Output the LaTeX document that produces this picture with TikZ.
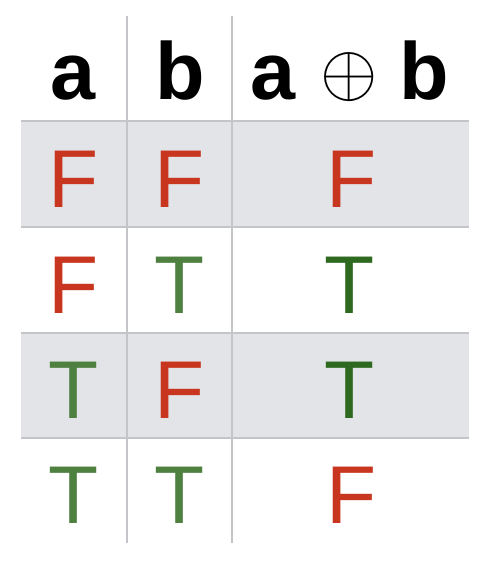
\documentclass[tikz,border=0pt]{standalone}
\usepackage{graphicx}
\usepackage{fontspec}
\setmainfont{Liberation Sans}
\definecolor{fred}{HTML}{C8361F}
\definecolor{tgreen}{HTML}{4E8040}
\definecolor{tdark}{HTML}{2D6A1F}
\definecolor{rowgray}{HTML}{E3E4E8}
\definecolor{rulegray}{HTML}{C4C5C9}
\begin{document}
\begin{tikzpicture}[x=1bp,y=-1bp,
  cell/.style={anchor=base,inner sep=0pt,font=\fontsize{82bp}{82bp}\selectfont},
  head/.style={anchor=base,inner sep=0pt,font=\fontsize{81bp}{81bp}\selectfont\bfseries},
  valF/.style={cell,text=fred},
  valT/.style={cell,text=tgreen},
  valTd/.style={cell,text=tdark},
  gridline/.style={draw=rulegray,line width=1.6bp}]
\useasboundingbox (0,0) rectangle (494,572);
\fill[white] (0,0) rectangle (494,572);
% shaded rows
\fill[rowgray] (21,121) rectangle (469,227);
\fill[rowgray] (21,333) rectangle (469,438);
% horizontal rules
\foreach \yy in {121,227,333,438} \draw[gridline] (21,\yy) -- (469,\yy);
% vertical rules
\draw[gridline] (127,16) -- (127,543);
\draw[gridline] (232,16) -- (232,543);
% header
\node[head] (ha) at (73,100) {a};
\node[head] (hb) at (180,100) {b};
\node[head] (hab) at (350,100) {a\hspace{24.5bp}\raisebox{4.5bp}{\scalebox{7.4}{\fontsize{10pt}{12pt}\selectfont$\oplus$}}\hspace{22.5bp}b};
% row 1
\node[valF] (r1a) at (74,207) {F};
\node[valF] (r1b) at (180,207) {F};
\node[valF] (r1c) at (352,207) {F};
% row 2
\node[valF] (r2a) at (74,313) {F};
\node[valT] (r2b) at (180,313) {T};
\node[valTd] (r2c) at (350,313) {T};
% row 3
\node[valT] (r3a) at (74,418) {T};
\node[valF] (r3b) at (180,418) {F};
\node[valTd] (r3c) at (350,418) {T};
% row 4
\node[valT] (r4a) at (74,523) {T};
\node[valT] (r4b) at (180,523) {T};
\node[valF] (r4c) at (352,523) {F};
\end{tikzpicture}
\end{document}
